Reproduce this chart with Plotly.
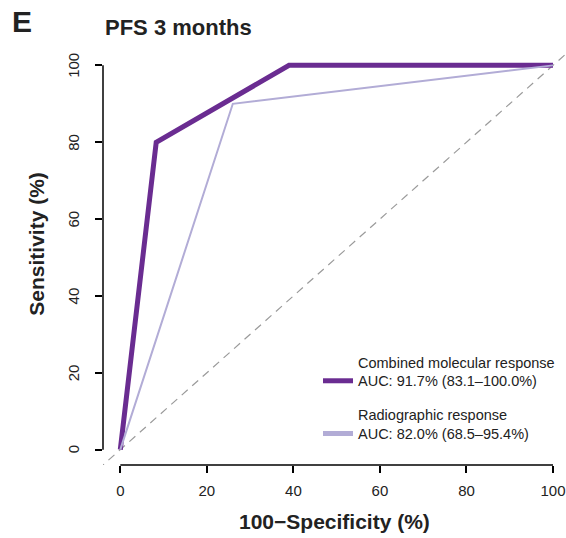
import plotly.graph_objects as go

# ROC data (100-specificity, sensitivity), in %
fpr_combined = [0, 8.3, 39.0, 100]
tpr_combined = [0, 80, 100, 100]
fpr_radio = [0, 26.0, 100]
tpr_radio = [0, 90, 100]
diag = [-10, 110]

x_ticks = [0, 20, 40, 60, 80, 100]
y_ticks = [0, 20, 40, 60, 80, 100]

name_combined = "Combined molecular response<br>AUC: 91.7% (83.1\u2013100.0%)"
name_radio = "Radiographic response<br>AUC: 82.0% (68.5\u201395.4%)"

COL_COMB = "#6a2c91"
COL_RADIO = "#b2acd6"
FONT = "Liberation Sans, Arial, Helvetica, sans-serif"

W, H = 566, 538
L, R, T, B = 103, 0, 50, 73
pw, ph = W - L - R, H - T - B


def px_x(p):
    """pixel x -> paper coordinate"""
    return (p - L) / pw


def px_y(p):
    """pixel y -> paper coordinate"""
    return (H - B - p) / ph


fig = go.Figure()
fig.add_trace(go.Scatter(x=diag, y=diag, mode="lines", showlegend=False,
                         line=dict(color="#9a9a9a", width=1.2, dash="8px,6px"),
                         hoverinfo="skip"))
fig.add_trace(go.Scatter(x=fpr_combined, y=tpr_combined, mode="lines",
                         showlegend=False, line=dict(color=COL_COMB, width=5)))
fig.add_trace(go.Scatter(x=fpr_radio, y=tpr_radio, mode="lines",
                         showlegend=False, line=dict(color=COL_RADIO, width=2)))
# legend entries (legend keys drawn thicker, as in the reference)
fig.add_trace(go.Scatter(x=[None], y=[None], mode="lines", name=name_combined,
                         legendgroup="a", legendrank=1,
                         line=dict(color=COL_COMB, width=5)))
fig.add_trace(go.Scatter(x=[None], y=[None], mode="lines", name=name_radio,
                         legendgroup="b", legendrank=2,
                         line=dict(color=COL_RADIO, width=5)))

axis_common = dict(showgrid=False, zeroline=False, showline=False, automargin=False,
                   ticks="outside", ticklen=7, tickwidth=1.5, tickcolor="black",
                   ticklabeloverflow="allow",
                   tickfont=dict(family=FONT, size=15, color="#222"))

# rotated y tick labels (R style), placed on the y scale
ytick_annotations = [
    dict(text=str(v), xref="paper", yref="y", x=px_x(73.5), y=v,
         xanchor="center", yanchor="middle", showarrow=False, textangle=-90,
         font=dict(family=FONT, size=15, color="#222"))
    for v in y_ticks
]

fig.update_layout(
    template="none",
    width=W, height=H,
    margin=dict(l=L, r=R, t=T, b=B, autoexpand=False),
    paper_bgcolor="white", plot_bgcolor="white",
    font=dict(family=FONT, color="#222"),
    xaxis=dict(range=[-4, 103], tickvals=x_ticks, ticktext=[str(v) for v in x_ticks],
               ticklabelstandoff=5, **axis_common),
    yaxis=dict(range=[-4, 104], tickvals=y_ticks, showticklabels=False, **axis_common),
    showlegend=True,
    legend=dict(x=px_x(318), y=px_y(346), xanchor="left", yanchor="top",
                font=dict(family=FONT, size=14.5, color="#222"),
                valign="bottom", tracegroupgap=12, bgcolor="rgba(0,0,0,0)",
                itemwidth=30),
    shapes=[
        dict(type="line", xref="x", yref="paper", x0=0, x1=100, y0=0, y1=0,
             line=dict(color="black", width=1.5)),
        dict(type="line", xref="paper", yref="y", x0=0, x1=0, y0=0, y1=100,
             line=dict(color="black", width=1.5)),
    ],
    annotations=ytick_annotations + [
        dict(text="<b>E</b>", xref="paper", yref="paper", x=px_x(21.5), y=px_y(22),
             xanchor="center", yanchor="middle", showarrow=False,
             font=dict(family=FONT, size=30, color="#222")),
        dict(text="<b>PFS 3 months</b>", xref="paper", yref="paper", x=px_x(103), y=px_y(28),
             xanchor="left", yanchor="middle", showarrow=False,
             font=dict(family=FONT, size=22, color="#222")),
        dict(text="<b>100\u2212Specificity (%)</b>", xref="x", yref="paper", x=49.5, y=px_y(521),
             xanchor="center", yanchor="middle", showarrow=False,
             font=dict(family=FONT, size=21, color="#222")),
        dict(text="<b>Sensitivity (%)</b>", xref="paper", yref="y", x=px_x(37), y=53.6,
             xanchor="center", yanchor="middle", showarrow=False, textangle=-90,
             font=dict(family=FONT, size=21, color="#222")),
    ],
)

fig.write_html(
    "out.html",
    config={"displayModeBar": False},
    post_script="document.body.style.margin='0';document.body.style.overflow='hidden';",
)
